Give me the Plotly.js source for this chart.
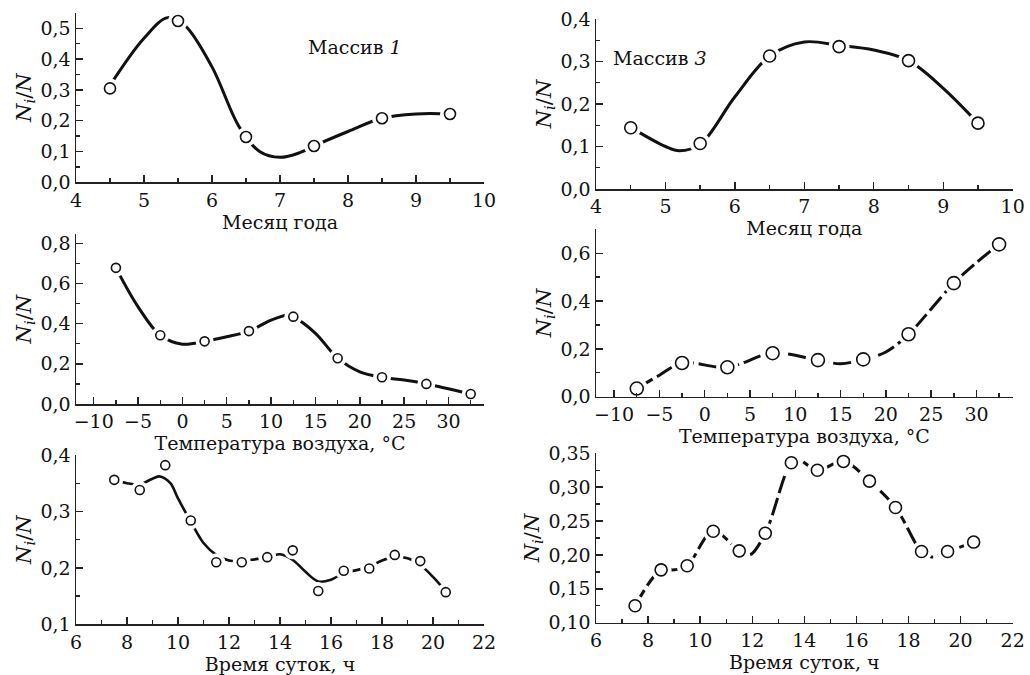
<!DOCTYPE html>
<html>
<head>
<meta charset="utf-8">
<script src="https://cdn.plot.ly/plotly-3.0.1.min.js"></script>
<style>html,body{margin:0;padding:0;background:#fff;}#chart{width:1030px;height:675px;}</style>
</head>
<body>
<div id="chart"></div>
<script>
// ---- Data ----
// Panel: month of year, array 1
const monthX = [4.5, 5.5, 6.5, 7.5, 8.5, 9.5];
const month1Y = [0.305, 0.524, 0.147, 0.118, 0.208, 0.222];
const month1CurveX = [4.5, 5.0, 5.35, 5.6, 6.0, 6.4, 6.7, 7.0, 7.3, 7.5, 8.0, 8.5, 9.0, 9.5];
const month1CurveY = [0.315, 0.468, 0.535, 0.51, 0.375, 0.18, 0.10, 0.081, 0.097, 0.118, 0.165, 0.208, 0.222, 0.222];
// Panel: month of year, array 3
const month3Y = [0.144, 0.107, 0.313, 0.335, 0.302, 0.155];
const month3CurveX = [4.5, 5.0, 5.2, 5.5, 6.0, 6.5, 7.0, 7.5, 8.0, 8.5, 9.0, 9.5];
const month3CurveY = [0.145, 0.100, 0.090, 0.105, 0.217, 0.313, 0.346, 0.338, 0.327, 0.302, 0.237, 0.155];
// Panel: air temperature
const tempX = [-7.5, -2.5, 2.5, 7.5, 12.5, 17.5, 22.5, 27.5, 32.5];
const temp1Y = [0.678, 0.342, 0.312, 0.363, 0.435, 0.228, 0.133, 0.100, 0.050];
const temp1CurveX = [-7.5, -5, -2.5, 0, 2.5, 5, 7.5, 10, 12, 12.5, 15, 17.5, 20, 22.5, 25, 27.5, 32.5];
const temp1CurveY = [0.678, 0.484, 0.342, 0.298, 0.312, 0.335, 0.363, 0.418, 0.443, 0.435, 0.352, 0.228, 0.160, 0.133, 0.119, 0.100, 0.050];
const temp3Y = [0.034, 0.141, 0.123, 0.182, 0.153, 0.156, 0.261, 0.475, 0.637];
const temp3CurveX = [-7.5, -5, -2.5, 2.5, 7.5, 12.5, 15, 17.5, 20, 22.5, 25, 27.5, 30, 32.5];
const temp3CurveY = [0.034, 0.09, 0.141, 0.123, 0.182, 0.153, 0.138, 0.156, 0.187, 0.261, 0.367, 0.475, 0.561, 0.637];
// Panel: time of day
const hourX = [7.5, 8.5, 9.5, 10.5, 11.5, 12.5, 13.5, 14.5, 15.5, 16.5, 17.5, 18.5, 19.5, 20.5];
const hour1Y = [0.356, 0.338, 0.382, 0.284, 0.210, 0.210, 0.219, 0.231, 0.159, 0.195, 0.199, 0.223, 0.212, 0.157];
const hour1CurveX = [7.5, 8, 8.5, 9, 9.3, 9.7, 10, 10.5, 11, 11.5, 12, 12.5, 13, 13.5, 14, 14.5, 15, 15.5, 16, 16.5, 17, 17.5, 18, 18.5, 19, 19.5, 20, 20.5];
const hour1CurveY = [0.356, 0.35, 0.348, 0.358, 0.362, 0.35, 0.323, 0.282, 0.244, 0.223, 0.213, 0.212, 0.215, 0.219, 0.224, 0.214, 0.193, 0.176, 0.179, 0.191, 0.196, 0.202, 0.213, 0.219, 0.217, 0.205, 0.184, 0.158];
const hour3Y = [0.125, 0.178, 0.184, 0.235, 0.206, 0.232, 0.336, 0.325, 0.338, 0.309, 0.270, 0.205, 0.205, 0.219];
const hour3CurveX = [7.5, 8.5, 9.0, 9.5, 10.5, 11.5, 11.9, 12.5, 13.5, 13.8, 14.5, 15.5, 16.5, 17.5, 18.5, 18.9, 19.5, 20.5];
const hour3CurveY = [0.125, 0.178, 0.178, 0.184, 0.235, 0.206, 0.200, 0.232, 0.336, 0.340, 0.325, 0.338, 0.309, 0.270, 0.205, 0.197, 0.205, 0.219];

const xTitleMonth = 'Месяц года';
const xTitleTemp = 'Температура воздуха, °C';
const xTitleHour = 'Время суток, ч';
const yTitle = '<i>N<sub>i</sub></i>/<i>N</i>';
const label1 = 'Массив <i>1</i>';
const label3 = 'Массив <i>3</i>';

// ---- Build ----
const FONT = '"DejaVu Serif", "Liberation Serif", serif';
const W = 1030, H = 675;
const traces = [];
function addPanel(n, px, py, cx, cy, msize, dash, lw) {
  const xa = n === 1 ? 'x' : 'x' + n, ya = n === 1 ? 'y' : 'y' + n;
  traces.push({x: cx, y: cy, xaxis: xa, yaxis: ya, mode: 'lines', type: 'scatter',
    line: {color: '#111', width: lw, shape: 'spline', smoothing: 1, dash: dash}, hoverinfo: 'skip'});
  traces.push({x: px, y: py, xaxis: xa, yaxis: ya, mode: 'markers', type: 'scatter',
    marker: {color: '#fff', size: msize + 9, line: {width: 0}}, hoverinfo: 'skip'});
  traces.push({x: px, y: py, xaxis: xa, yaxis: ya, mode: 'markers', type: 'scatter',
    marker: {color: '#fff', size: msize, line: {color: '#111', width: 1.6}}});
}
addPanel(1, monthX, month1Y, month1CurveX, month1CurveY, 11, 'solid', 3);
addPanel(2, monthX, month3Y, month3CurveX, month3CurveY, 12, 'solid', 3);
addPanel(3, tempX, temp1Y, temp1CurveX, temp1CurveY, 9, 'solid', 3);
addPanel(4, tempX, temp3Y, temp3CurveX, temp3CurveY, 13, '18px,5px', 3);
addPanel(5, hourX, hour1Y, hour1CurveX, hour1CurveY, 9, 'solid', 2.6);
addPanel(6, hourX, hour3Y, hour3CurveX, hour3CurveY, 12, '18px,5px', 3);

function xAxis(l, r, range, dtick, minor, title, anchor, standoff) {
  return {domain: [l / W, r / W], range: range, anchor: anchor, dtick: dtick, tick0: 0,
    ticks: 'inside', ticklen: 7, tickwidth: 1.4, tickcolor: '#222',
    minor: {dtick: minor, tick0: 0, ticks: 'inside', ticklen: 4, tickwidth: 1.4, tickcolor: '#222', showgrid: false},
    showline: true, linecolor: '#222', linewidth: 1.5, showgrid: false, zeroline: false,
    tickfont: {family: FONT, size: 19, color: '#111'},
    title: {text: title, font: {family: FONT, size: 19, color: '#111'}, standoff: standoff}};
}
function yAxis(t, b, range, dtick, minor, fmt, anchor) {
  return {domain: [1 - b / H, 1 - t / H], range: range, anchor: anchor, dtick: dtick, tick0: 0,
    tickformat: fmt, ticks: 'inside', ticklen: 7, tickwidth: 1.4, tickcolor: '#222',
    minor: {dtick: minor, tick0: 0, ticks: 'inside', ticklen: 4, tickwidth: 1.4, tickcolor: '#222', showgrid: false},
    showline: true, linecolor: '#222', linewidth: 1.5, showgrid: false, zeroline: false,
    tickfont: {family: FONT, size: 19, color: '#111'},
    title: {text: yTitle, font: {family: FONT, size: 21, color: '#111'}, standoff: 3}};
}

const layout = {
  width: W, height: H, margin: {l: 0, r: 0, t: 0, b: 0},
  paper_bgcolor: '#fff', plot_bgcolor: 'rgba(0,0,0,0)', showlegend: false,
  separators: ', ',
  font: {family: FONT, color: '#111'},
  xaxis: xAxis(76, 484, [4, 10], 1, 0.5, xTitleMonth, 'y', 4),
  yaxis: yAxis(13, 182.3, [0, 0.55], 0.1, 0.05, '.1f', 'x'),
  xaxis2: xAxis(596, 1012.7, [4, 10], 1, 0.5, xTitleMonth, 'y2', 1),
  yaxis2: yAxis(19, 189, [0, 0.4], 0.1, 0.05, '.1f', 'x2'),
  xaxis3: xAxis(76, 484, [-12, 34], 5, 2.5, xTitleTemp, 'y3', 1),
  yaxis3: yAxis(234.3, 404, [0, 0.845], 0.2, 0.1, '.1f', 'x3'),
  xaxis4: xAxis(596, 1012.7, [-12, 34], 5, 2.5, xTitleTemp, 'y4', 0),
  yaxis4: yAxis(229.3, 396.7, [0, 0.7], 0.2, 0.1, '.1f', 'x4'),
  xaxis5: xAxis(76, 484, [6, 22], 2, 1, xTitleHour, 'y5', 1),
  yaxis5: yAxis(455, 624.3, [0.1, 0.4], 0.1, 0.05, '.1f', 'x5'),
  xaxis6: xAxis(596, 1012.7, [6, 22], 2, 1, xTitleHour, 'y6', 1),
  yaxis6: yAxis(453.3, 622.7, [0.1, 0.35], 0.05, 0.025, '.2f', 'x6'),
  annotations: [
    {text: label1, xref: 'paper', yref: 'paper', x: 355 / W, y: 1 - 34 / H, showarrow: false,
      font: {family: FONT, size: 19, color: '#111'}},
    {text: label3, xref: 'paper', yref: 'paper', x: 660 / W, y: 1 - 45 / H, showarrow: false,
      font: {family: FONT, size: 19, color: '#111'}}
  ]
};
Plotly.newPlot('chart', traces, layout, {staticPlot: true});
</script>
</body>
</html>
